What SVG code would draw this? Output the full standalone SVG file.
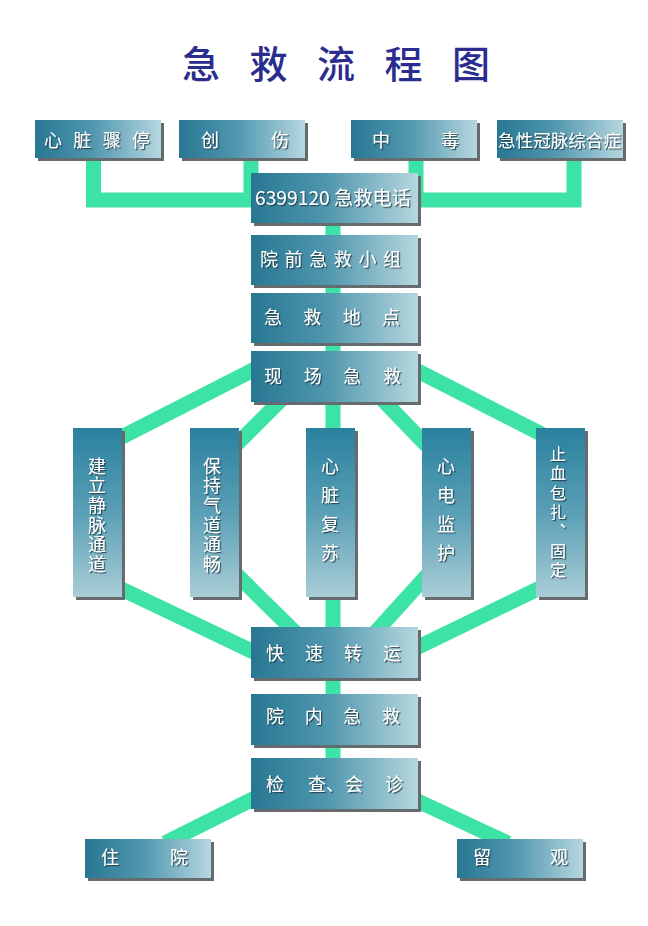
<svg xmlns="http://www.w3.org/2000/svg" width="648" height="926" viewBox="0 0 648 926">
<defs>
<linearGradient id="gh" x1="0" y1="0" x2="1" y2="0">
<stop offset="0" stop-color="#287792"/>
<stop offset="0.45" stop-color="#4f96ae"/>
<stop offset="1" stop-color="#b6d7df"/>
</linearGradient>
<linearGradient id="gv" x1="0" y1="0" x2="0" y2="1">
<stop offset="0" stop-color="#2a819e"/>
<stop offset="0.5" stop-color="#5a9fb6"/>
<stop offset="1" stop-color="#a9cdd6"/>
</linearGradient>
<filter id="ts" x="-20%" y="-20%" width="140%" height="140%">
<feDropShadow dx="1.2" dy="1.2" stdDeviation="0.5" flood-color="#1c3441" flood-opacity="0.85"/>
</filter>
</defs>
<style>
.c{stroke:#3de3a4;stroke-width:15;fill:none;stroke-linejoin:miter}
.sh{fill:#666b6e}
.bh{fill:url(#gh)}
.bv{fill:url(#gv)}
.t{font-family:"Noto Sans CJK SC","Noto Sans",sans-serif;font-size:18px;fill:#ffffff;filter:url(#ts)}
.tt{font-family:"Noto Sans CJK SC","Noto Sans",sans-serif;font-size:38px;fill:#2b2d8e;font-weight:500}
.vt{writing-mode:vertical-rl;text-anchor:start}
</style>
<rect width="648" height="926" fill="#ffffff"/>
<text class="tt" x="182" y="78" textLength="308" lengthAdjust="spacing">急 救 流 程 图</text>

<g id="connectors">
<polyline class="c" points="93.5,158 93.5,200 251,200"/>
<polyline class="c" points="574,158 574,200 418,200"/>
<line class="c" x1="251" y1="158" x2="251" y2="205"/>
<line class="c" x1="416" y1="158" x2="416" y2="205"/>
<line class="c" x1="333" y1="220" x2="333" y2="790"/>
<line class="c" x1="262" y1="365.4" x2="112" y2="442"/>
<line class="c" x1="286" y1="395" x2="231" y2="450"/>
<line class="c" x1="378" y1="395" x2="432" y2="451"/>
<line class="c" x1="408" y1="366" x2="553" y2="440"/>
<line class="c" x1="112" y1="584.5" x2="262" y2="656"/>
<line class="c" x1="232" y1="570" x2="300" y2="637"/>
<line class="c" x1="430" y1="572" x2="372" y2="636"/>
<line class="c" x1="544" y1="586" x2="408" y2="652"/>
<line class="c" x1="262" y1="794.5" x2="165" y2="843"/>
<line class="c" x1="408" y1="796.5" x2="508" y2="843"/>
</g>

<g id="n-xinzang">
<rect class="sh" x="38" y="123" width="126" height="38"/>
<rect class="bh" x="35" y="120" width="126" height="38"/>
<text class="t" x="44" y="147" textLength="106" lengthAdjust="spacing">心 脏 骤 停</text>
</g>
<g id="n-chuangshang">
<rect class="sh" x="182" y="123" width="126" height="38"/>
<rect class="bh" x="179" y="120" width="126" height="38"/>
<text class="t" x="201" y="147" textLength="88" lengthAdjust="spacing">创 伤</text>
</g>
<g id="n-zhongdu">
<rect class="sh" x="354" y="123" width="126" height="38"/>
<rect class="bh" x="351" y="120" width="126" height="38"/>
<text class="t" x="372" y="147" textLength="87" lengthAdjust="spacing">中 毒</text>
</g>
<g id="n-guanmai">
<rect class="sh" x="500" y="123" width="126" height="38"/>
<rect class="bh" x="497" y="120" width="126" height="38"/>
<text class="t" x="498" y="147" textLength="123" lengthAdjust="spacingAndGlyphs" style="font-size:17.5px">急性冠脉综合症</text>
</g>

<g id="n-phone">
<rect class="sh" x="254" y="176" width="167" height="50"/>
<rect class="bh" x="251" y="173" width="167" height="50"/>
<text class="t" x="255" y="205" textLength="156" lengthAdjust="spacingAndGlyphs" style="font-size:19px">6399120 急救电话</text>
</g>
<g id="n-yuanqian">
<rect class="sh" x="254" y="238" width="167" height="50"/>
<rect class="bh" x="251" y="235" width="167" height="50"/>
<text class="t" x="260" y="266" textLength="141" lengthAdjust="spacing">院 前 急 救 小 组</text>
</g>
<g id="n-didian">
<rect class="sh" x="254" y="296" width="167" height="50"/>
<rect class="bh" x="251" y="293" width="167" height="50"/>
<text class="t" x="264" y="324" textLength="136" lengthAdjust="spacing">急 救 地 点</text>
</g>
<g id="n-xianchang">
<rect class="sh" x="254" y="354" width="167" height="51"/>
<rect class="bh" x="251" y="351" width="167" height="51"/>
<text class="t" x="264" y="383" textLength="137" lengthAdjust="spacing">现 场 急 救</text>
</g>

<g id="n-jingmai">
<rect class="sh" x="76" y="431" width="49" height="169"/>
<rect class="bv" x="73" y="428" width="49" height="169"/>
<text class="t vt"><tspan x="97" y="457">建</tspan><tspan x="97" y="476.6">立</tspan><tspan x="97" y="496.2">静</tspan><tspan x="97" y="515.8">脉</tspan><tspan x="97" y="535.4">通</tspan><tspan x="97" y="555">道</tspan></text>
</g>
<g id="n-qidao">
<rect class="sh" x="193" y="431" width="49" height="169"/>
<rect class="bv" x="190" y="428" width="49" height="169"/>
<text class="t vt"><tspan x="212" y="457">保</tspan><tspan x="212" y="476.6">持</tspan><tspan x="212" y="496.2">气</tspan><tspan x="212" y="515.8">道</tspan><tspan x="212" y="535.4">通</tspan><tspan x="212" y="555">畅</tspan></text>
</g>
<g id="n-fusu">
<rect class="sh" x="309" y="431" width="49" height="169"/>
<rect class="bv" x="306" y="428" width="49" height="169"/>
<text class="t vt"><tspan x="330" y="457">心</tspan><tspan x="330" y="486">脏</tspan><tspan x="330" y="515">复</tspan><tspan x="330" y="544">苏</tspan></text>
</g>
<g id="n-jianhu">
<rect class="sh" x="425" y="431" width="49" height="169"/>
<rect class="bv" x="422" y="428" width="49" height="169"/>
<text class="t vt"><tspan x="446" y="457">心</tspan><tspan x="446" y="486">电</tspan><tspan x="446" y="515">监</tspan><tspan x="446" y="544">护</tspan></text>
</g>
<g id="n-zhixue">
<rect class="sh" x="539" y="431" width="49" height="169"/>
<rect class="bv" x="536" y="428" width="49" height="169"/>
<text class="t vt" style="font-size:16px"><tspan x="558" y="446">止</tspan><tspan x="558" y="465.3">血</tspan><tspan x="558" y="484.6">包</tspan><tspan x="558" y="503.9">扎</tspan><tspan x="558" y="523.2">、</tspan><tspan x="558" y="542.5">固</tspan><tspan x="558" y="561.8">定</tspan></text>
</g>

<g id="n-zhuanyun">
<rect class="sh" x="254" y="630" width="167" height="51"/>
<rect class="bh" x="251" y="627" width="167" height="51"/>
<text class="t" x="266" y="660" textLength="135" lengthAdjust="spacing">快 速 转 运</text>
</g>
<g id="n-yuannei">
<rect class="sh" x="254" y="697" width="167" height="51"/>
<rect class="bh" x="251" y="694" width="167" height="51"/>
<text class="t" x="266" y="723" textLength="134" lengthAdjust="spacing">院 内 急 救</text>
</g>
<g id="n-jiancha">
<rect class="sh" x="254" y="761" width="167" height="51"/>
<rect class="bh" x="251" y="758" width="167" height="51"/>
<text class="t" y="791"><tspan x="266">检</tspan><tspan x="308">查</tspan><tspan x="326">、</tspan><tspan x="345">会</tspan><tspan x="385">诊</tspan></text>
</g>

<g id="n-zhuyuan">
<rect class="sh" x="88" y="842" width="126" height="39"/>
<rect class="bh" x="85" y="839" width="126" height="39"/>
<text class="t" x="101" y="864" textLength="87" lengthAdjust="spacing">住 院</text>
</g>
<g id="n-liuguan">
<rect class="sh" x="460" y="842" width="126" height="39"/>
<rect class="bh" x="457" y="839" width="126" height="39"/>
<text class="t" x="473" y="864" textLength="95" lengthAdjust="spacing">留 观</text>
</g>
</svg>
